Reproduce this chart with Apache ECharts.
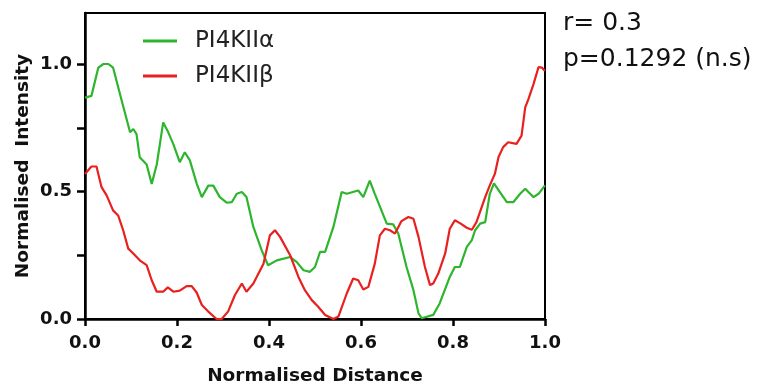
<!DOCTYPE html>
<html>
<head>
<meta charset="utf-8">
<script src="https://cdn.jsdelivr.net/npm/echarts@6/dist/echarts.min.js"></script>
<style>
  html, body { margin: 0; padding: 0; background: #fff; }
  #chart { width: 757px; height: 387px; }
</style>
</head>
<body>
<div id="chart"></div>
<script>
// values
var alphaDistance = [0, 0.014, 0.029, 0.040, 0.051, 0.061, 0.080, 0.098, 0.105, 0.112, 0.119, 0.134, 0.145, 0.156, 0.170, 0.181, 0.192, 0.206, 0.217, 0.228, 0.243, 0.254, 0.268, 0.279, 0.293, 0.308, 0.319, 0.330, 0.341, 0.351, 0.366, 0.384, 0.398, 0.417, 0.446, 0.460, 0.475, 0.489, 0.500, 0.511, 0.522, 0.540, 0.558, 0.569, 0.594, 0.605, 0.619, 0.630, 0.656, 0.670, 0.681, 0.699, 0.714, 0.725, 0.732, 0.757, 0.771, 0.793, 0.804, 0.815, 0.830, 0.841, 0.848, 0.859, 0.870, 0.880, 0.889, 0.902, 0.917, 0.931, 0.946, 0.957, 0.964, 0.975, 0.986, 1.0]
var alphaIntensity = [0.868, 0.875, 0.986, 1.0, 1.0, 0.986, 0.855, 0.732, 0.745, 0.725, 0.634, 0.606, 0.530, 0.606, 0.771, 0.732, 0.686, 0.615, 0.654, 0.622, 0.530, 0.478, 0.523, 0.523, 0.478, 0.456, 0.458, 0.491, 0.498, 0.478, 0.361, 0.27, 0.211, 0.230, 0.243, 0.224, 0.191, 0.185, 0.204, 0.263, 0.263, 0.361, 0.498, 0.491, 0.504, 0.478, 0.543, 0.491, 0.374, 0.371, 0.335, 0.204, 0.113, 0.022, 0.003, 0.016, 0.061, 0.165, 0.204, 0.204, 0.283, 0.309, 0.348, 0.374, 0.380, 0.491, 0.532, 0.498, 0.458, 0.458, 0.491, 0.511, 0.498, 0.478, 0.491, 0.524]

var betaDistance = [0, 0.014, 0.025, 0.036, 0.047, 0.061, 0.072, 0.083, 0.094, 0.105, 0.119, 0.134, 0.145, 0.156, 0.170, 0.180, 0.192, 0.206, 0.221, 0.232, 0.243, 0.254, 0.268, 0.286, 0.297, 0.311, 0.326, 0.341, 0.351, 0.366, 0.388, 0.402, 0.413, 0.424, 0.446, 0.464, 0.478, 0.493, 0.507, 0.522, 0.540, 0.551, 0.569, 0.583, 0.594, 0.605, 0.616, 0.630, 0.641, 0.652, 0.663, 0.674, 0.688, 0.703, 0.714, 0.725, 0.739, 0.750, 0.757, 0.768, 0.783, 0.793, 0.804, 0.815, 0.830, 0.841, 0.851, 0.870, 0.880, 0.891, 0.899, 0.909, 0.920, 0.938, 0.949, 0.957, 0.964, 0.975, 0.986, 0.993, 1.0]
var betaIntensity = [0.569, 0.598, 0.598, 0.517, 0.485, 0.426, 0.406, 0.348, 0.276, 0.257, 0.230, 0.211, 0.152, 0.107, 0.107, 0.124, 0.107, 0.111, 0.129, 0.129, 0.103, 0.055, 0.029, 0.0, 0.0, 0.029, 0.094, 0.139, 0.107, 0.139, 0.217, 0.328, 0.348, 0.322, 0.250, 0.165, 0.113, 0.074, 0.048, 0.016, 0.0, 0.010, 0.100, 0.159, 0.152, 0.116, 0.126, 0.217, 0.328, 0.354, 0.348, 0.335, 0.384, 0.400, 0.393, 0.322, 0.204, 0.133, 0.139, 0.178, 0.257, 0.354, 0.387, 0.376, 0.358, 0.350, 0.380, 0.478, 0.524, 0.569, 0.635, 0.674, 0.693, 0.687, 0.719, 0.830, 0.862, 0.921, 0.988, 0.986, 0.973]

var xTicks = [0, 0.2, 0.4, 0.6, 0.8, 1.0]
var yTicks = [0, 0.25, 0.5, 0.75, 1.0]
var yLabels = [0, 0.5, 1.0]
var seriesNames = ['PI4KIIα', 'PI4KIIβ']
var statLines = ['r= 0.3', 'p=0.1292 (n.s)']

function pairs(xs, ys) {
  let out = []
  for (let i = 0; i < xs.length; i++) out.push([xs[i], ys[i]])
  return out
}

var font = 'DejaVu Sans'
var green = '#2db52d'
var red = '#e8201e'

let option = {
  animation: false,
  backgroundColor: '#fff',
  grid: {
    left: 85,
    right: 212,
    top: 13,
    bottom: 68,
    outerBoundsMode: 'none',
    show: true,
    borderColor: '#000',
    borderWidth: 2,
  },
  legend: {
    orient: 'vertical',
    left: 138,
    top: 24,
    itemWidth: 34,
    itemHeight: 3,
    itemGap: 11,
    icon: 'rect',
    textStyle: {
      fontFamily: font,
      fontSize: 23,
      color: '#222',
      padding: [0, 0, 0, 13],
      lineHeight: 24,
    },
    data: seriesNames,
  },
  xAxis: {
    type: 'value',
    min: 0,
    max: 1,
    interval: 0.2,
    name: 'Normalised Distance',
    nameLocation: 'middle',
    nameGap: 48,
    nameMoveOverlap: false,
    nameTextStyle: { fontFamily: font, fontWeight: 'bold', fontSize: 18.5, color: '#111' },
    axisLine: { lineStyle: { color: '#000', width: 2.5 } },
    axisTick: { show: true, length: 7, lineStyle: { color: '#000', width: 2.5 }, customValues: xTicks },
    axisLabel: {
      margin: 15,
      fontFamily: font, fontWeight: 'bold', fontSize: 18, color: '#111',
      customValues: xTicks,
      formatter: function (v) { return v.toFixed(1) },
    },
    splitLine: { show: false },
  },
  yAxis: {
    type: 'value',
    min: 0,
    max: 1.2,
    interval: 0.25,
    name: 'Normalised  Intensity',
    nameLocation: 'middle',
    nameGap: 52,
    nameMoveOverlap: false,
    nameTextStyle: { fontFamily: font, fontWeight: 'bold', fontSize: 18.5, color: '#111' },
    axisLine: { show: true, lineStyle: { color: '#000', width: 2.5 } },
    axisTick: { show: true, length: 8, lineStyle: { color: '#000', width: 2.5 }, customValues: yTicks },
    axisLabel: {
      margin: 13,
      fontFamily: font, fontWeight: 'bold', fontSize: 18, color: '#111',
      customValues: yLabels,
      formatter: function (v) { return v.toFixed(1) },
    },
    splitLine: { show: false },
  },
  graphic: [
    { type: 'text', left: 563, top: 11, style: { text: statLines[0], font: '25px "DejaVu Sans"', fill: '#111' } },
    { type: 'text', left: 563, top: 47, style: { text: statLines[1], font: '25px "DejaVu Sans"', fill: '#111' } },
  ],
  series: [
    {
      name: seriesNames[0],
      type: 'line',
      data: [],
      showSymbol: false,
      lineStyle: { color: green, width: 2.2 },
      itemStyle: { color: green },
    },
    {
      name: seriesNames[1],
      type: 'line',
      data: [],
      showSymbol: false,
      lineStyle: { color: red, width: 2.2 },
      itemStyle: { color: red },
    },
  ]
}
option.series[0].data = pairs(alphaDistance, alphaIntensity)
option.series[1].data = pairs(betaDistance, betaIntensity)

let chart = echarts.init(document.getElementById('chart'))
chart.setOption(option)
</script>
</body>
</html>
